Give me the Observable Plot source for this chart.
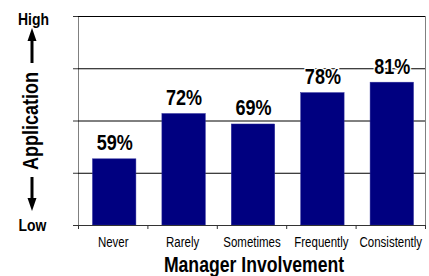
<!DOCTYPE html>
<html><head><meta charset="utf-8">
<script src="https://cdn.jsdelivr.net/npm/d3@7"></script>
<script src="https://cdn.jsdelivr.net/npm/@observablehq/plot@0.6"></script>
<style>html,body{margin:0;padding:0;background:#fff} svg{overflow:visible}</style>
</head><body><div id="chart"></div>
<script>
const categories = ["Never", "Rarely", "Sometimes", "Frequently", "Consistently"];
const values = [59, 72, 69, 78, 81];
const valueLabels = ["59%", "72%", "69%", "78%", "81%"];
const yTicks = [40, 55, 70, 85, 100];
const xTitle = "Manager Involvement";
const yTitle = "Application";
const yHigh = "High";
const yLow = "Low";

const data = categories.map((c, i) => ({category: c, i0: i, i1: i + 1, mid: i + 0.5, value: values[i], label: valueLabels[i], base: yTicks[0]}));
const boundaries = d3.range(categories.length + 1);
const font = `"Liberation Sans", Arial, sans-serif`;

const chart = Plot.plot({
  width: 429, height: 276,
  marginLeft: 78, marginRight: 4, marginTop: 16, marginBottom: 51,
  style: {fontFamily: font, background: "#fff", overflow: "visible", color: "#000"},
  x: {type: "linear", domain: [0, categories.length], axis: null},
  y: {domain: [yTicks[0], yTicks[yTicks.length - 1]], axis: null},
  marks: [
    Plot.frame({stroke: "#808080"}),
    Plot.gridY({ticks: yTicks.slice(1), stroke: "#000", strokeOpacity: 1}),
    Plot.rectY(data, {x1: "i0", x2: "i1", y1: "base", y2: "value", fill: "#000080", stroke: "#2a2a9a", strokeWidth: 0.5, insetLeft: 14.5, insetRight: 11.5}),
    Plot.ruleY([yTicks[0]], {stroke: "#333"}),
    Plot.axisY({ticks: yTicks, tickSize: 5, tickFormat: () => "", stroke: "#333"}),
    Plot.axisX({ticks: boundaries, tickSize: 4, tickFormat: () => "", stroke: "#333"}),
    Plot.axisX({ticks: data.map(d => d.mid), tickSize: 0, tickPadding: 12, tickFormat: d => categories[Math.floor(d)], fontSize: 14, fill: "#000", fontFamily: font}),
    Plot.text(data, {x: "mid", y: "value", text: "label", dx: 1.5, dy: -9, lineAnchor: "bottom", fontSize: 22, fontWeight: "bold", fill: "#000", stroke: "#fff", strokeWidth: 3, paintOrder: "stroke"}),
    Plot.text([xTitle], {frameAnchor: "bottom", dx: 2, dy: 46, lineAnchor: "bottom", fontSize: 21.5, fontWeight: "bold", fill: "#000"}),
    Plot.text([yHigh], {frameAnchor: "top-left", dx: -45, dy: 8, lineAnchor: "bottom", textAnchor: "middle", fontSize: 17, fontWeight: "bold", fill: "#000"}),
    Plot.text([yLow], {frameAnchor: "bottom-left", dx: -46, dy: 5, lineAnchor: "bottom", textAnchor: "middle", fontSize: 17, fontWeight: "bold", fill: "#000"}),
    Plot.text([yTitle], {frameAnchor: "left", dx: -41, dy: 0, rotate: -90, lineAnchor: "bottom", textAnchor: "middle", fontSize: 22, fontWeight: "bold", fill: "#000"})
  ]
});
document.getElementById("chart").appendChild(chart);

// the reference uses a narrow face: compress each text horizontally about its anchor
d3.select(chart).selectAll("text").each(function() {
  if (!this.textContent) return;
  let t = this.getAttribute("transform") || "";
  const xa = this.getAttribute("x");
  const x = xa != null && !/[a-z%]/i.test(xa) ? +xa : 0;
  if (x) { t += ` translate(${x},0)`; this.removeAttribute("x"); }
  this.setAttribute("transform", `${t} scale(0.82,1)`.trim());
});

// decorative arrows beside the y-axis title
const g = d3.select(chart).append("g").attr("fill", "#000").attr("stroke", "#000");
g.append("line").attr("x1", 32).attr("x2", 32).attr("y1", 63).attr("y2", 39).attr("stroke-width", 3);
g.append("path").attr("d", "M32,28L27.5,41L36.5,41Z").attr("stroke", "none");
g.append("line").attr("x1", 32).attr("x2", 32).attr("y1", 177).attr("y2", 200).attr("stroke-width", 3);
g.append("path").attr("d", "M32,211L27.5,198L36.5,198Z").attr("stroke", "none");
</script>
</body></html>
